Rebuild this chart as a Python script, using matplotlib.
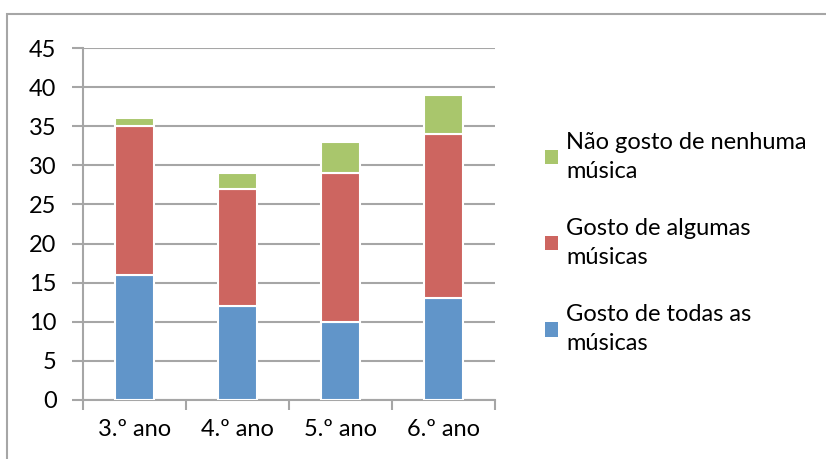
import matplotlib
matplotlib.use("Agg")
import matplotlib.pyplot as plt
from matplotlib.patches import Rectangle, Patch
import numpy as np

# ── Data ─────────────────────────────────────────────
categories = ["3.º ano", "4.º ano", "5.º ano", "6.º ano"]
todas      = [16, 12, 10, 13]
algumas    = [19, 15, 19, 21]
nenhuma    = [1, 2, 4, 5]

labels = ["Gosto de todas as\nmúsicas",
          "Gosto de algumas\nmúsicas",
          "Não gosto de nenhuma\nmúsica"]
colours = ["#6195C9", "#CD6560", "#A9C66C"]
GRID = "#A6A6A6"

plt.rcParams["font.family"] = ["Lato", "DejaVu Sans"]

fig = plt.figure(figsize=(8.26, 4.59), dpi=100)
fig.patch.set_facecolor("white")
# outer chart border
fig.add_artist(Rectangle((7 / 826, -0.2), 1.2, 1 - 14 / 459 + 0.2,
                         transform=fig.transFigure, fill=False,
                         edgecolor=GRID, linewidth=1.5))

ax = fig.add_axes([83 / 826, 1 - 400 / 459, 412 / 826, 352 / 459])
x = np.arange(len(categories))
w = 0.38
bottom = np.zeros(len(categories))
for vals, col, lab in zip([todas, algumas, nenhuma], colours, labels):
    ax.bar(x, vals, w, bottom=bottom, color=col, edgecolor="white",
           linewidth=1.5, label=lab, zorder=3)
    bottom += np.array(vals)

ax.set_xlim(-0.5, len(categories) - 0.5)
ax.set_ylim(0, 45)
ax.set_yticks(range(0, 46, 5))
ax.yaxis.grid(True, color=GRID, linewidth=1.5, zorder=0)
ax.set_axisbelow(True)
ax.set_xticks(x)
ax.set_xticklabels(categories)
ax.set_xticks(np.arange(-0.5, len(categories)), minor=True)
ax.tick_params(axis="x", which="major", length=0, pad=14, labelsize=17)
ax.tick_params(axis="x", which="minor", length=7, width=1.5, color=GRID,
               direction="out")
ax.tick_params(axis="y", length=8, width=1.5, color=GRID, pad=11, labelsize=17)
for s in ["top", "right"]:
    ax.spines[s].set_visible(False)
for s in ["left", "bottom"]:
    ax.spines[s].set_color(GRID)
    ax.spines[s].set_linewidth(1.5)

handles = [Patch(facecolor=c) for c in colours][::-1]
leg = fig.legend(handles, labels[::-1], loc="center left",
                 bbox_to_anchor=(524 / 826, 1 - 243 / 459), frameon=False,
                 fontsize=17, handlelength=0.55, handleheight=0.55,
                 handletextpad=0.35, labelspacing=1.55)
for t in leg.get_texts():
    t.set_linespacing(1.45)

plt.savefig("out.png", dpi=100, facecolor="white")
plt.close()
